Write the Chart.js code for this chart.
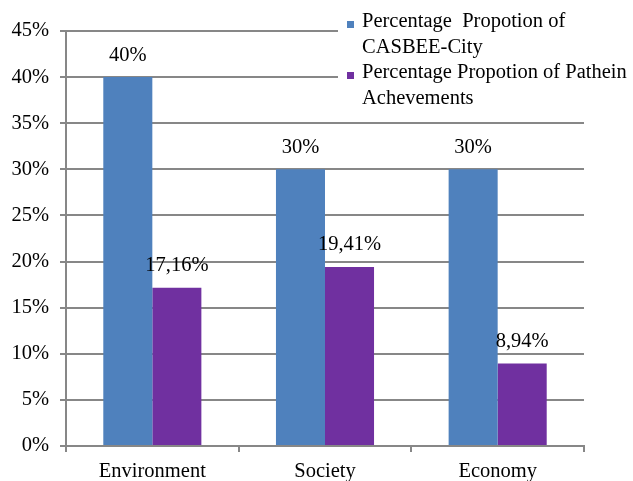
<!DOCTYPE html>
<html>
<head>
<meta charset="utf-8">
<script src="https://cdn.jsdelivr.net/npm/chart.js@4.4.1/dist/chart.umd.min.js"></script>
<style>
html,body{margin:0;padding:0;background:#fff;}
#wrap{position:relative;width:633px;height:481px;}
</style>
</head>
<body>
<div id="wrap"><canvas id="c" width="633" height="481"></canvas></div>
<script>
const categories = ['Environment', 'Society', 'Economy'];
const casbeeValues = [40, 30, 30];
const patheinValues = [17.16, 19.41, 8.94];
const seriesNames = [
  ['Percentage  Propotion of', 'CASBEE-City'],
  ['Percentage Propotion of Pathein', 'Achevements']
];
const yTicks = [0, 5, 10, 15, 20, 25, 30, 35, 40, 45];

const colors = ['#4F81BD', '#7030A0'];
const FONT = '"Liberation Serif", "Times New Roman", serif';
const FS = 20.5;

function fmt(v) {
  if (Number.isInteger(v)) return v + '%';
  return v.toFixed(2).replace('.', ',') + '%';
}

const valueLabels = {
  id: 'valueLabels',
  afterDatasetsDraw(chart) {
    const ctx = chart.ctx;
    ctx.save();
    ctx.font = FS + 'px ' + FONT;
    ctx.fillStyle = '#000';
    ctx.textAlign = 'center';
    ctx.textBaseline = 'middle';
    chart.data.datasets.forEach((ds, i) => {
      const meta = chart.getDatasetMeta(i);
      meta.data.forEach((bar, j) => {
        ctx.fillText(fmt(ds.data[j]), bar.x, bar.y - 22);
      });
    });
    ctx.restore();
  }
};

const boxLegend = {
  id: 'boxLegend',
  afterDraw(chart) {
    const ctx = chart.ctx;
    ctx.save();
    ctx.fillStyle = '#fff';
    ctx.fillRect(338, 0, 295, 110);
    ctx.font = FS + 'px ' + FONT;
    ctx.textAlign = 'left';
    ctx.textBaseline = 'middle';
    let y = 22;
    seriesNames.forEach((lines, i) => {
      ctx.fillStyle = chart.data.datasets[i].backgroundColor;
      ctx.fillRect(347, y - 1, 7, 7);
      ctx.fillStyle = '#000';
      lines.forEach(t => {
        ctx.fillText(t, 362, y);
        y += 25.5;
      });
    });
    ctx.restore();
  }
};

new Chart(document.getElementById('c'), {
  type: 'bar',
  data: {
    labels: categories,
    datasets: [
      { label: seriesNames[0].join(' '), data: casbeeValues, backgroundColor: colors[0],
        categoryPercentage: 0.568, barPercentage: 1.0 },
      { label: seriesNames[1].join(' '), data: patheinValues, backgroundColor: colors[1],
        categoryPercentage: 0.568, barPercentage: 1.0 }
    ]
  },
  options: {
    responsive: false,
    animation: false,
    layout: { padding: { top: 31, right: 49, left: 0, bottom: 0 } },
    plugins: { legend: { display: false }, tooltip: { enabled: false } },
    scales: {
      x: {
        afterFit(s) { s.height = 35; },
        grid: { drawOnChartArea: false, drawTicks: true, tickLength: 6, color: '#878787', lineWidth: 2 },
        border: { color: '#878787', width: 2 },
        ticks: { color: '#000', font: { family: FONT, size: FS }, padding: 7 }
      },
      y: {
        min: 0, max: 45,
        afterFit(s) { s.width = 66; },
        afterBuildTicks(s) { s.ticks = yTicks.map(v => ({ value: v })); },
        grid: { color: '#878787', lineWidth: 2, tickLength: 6 },
        border: { color: '#878787', width: 2 },
        ticks: { color: '#000', font: { family: FONT, size: FS }, padding: 11,
                 callback: v => v + '%' }
      }
    }
  },
  plugins: [valueLabels, boxLegend]
});
</script>
</body>
</html>
